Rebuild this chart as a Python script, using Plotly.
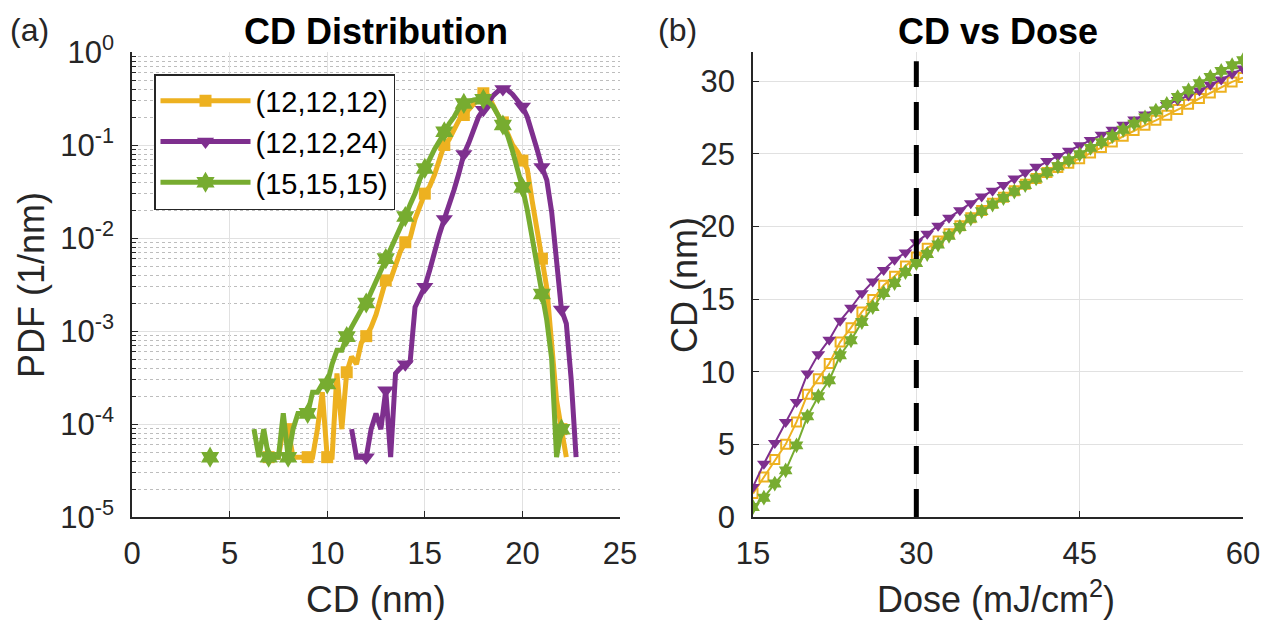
import plotly.graph_objects as go
import numpy as np

# ---------------- data ----------------
# (a) CD distribution: bin centres (nm) and PDF values (1/nm); None = empty bin
CD_BINS = [round(v, 2) for v in np.arange(4.0, 23.01, 0.25)]

PDF_12_12_12 = [
    None, None, None, None, None, None, None, None,          # 4.00-5.75
    None, None, None, None,                                  # 6.00-6.75
    4.4e-5, 4.4e-5, 4.4e-5, 8.8e-5,                          # 7.00-7.75
    8.8e-5, 4.4e-5, 4.4e-5, 4.4e-5,                          # 8.00-8.75
    4.4e-5, 4.4e-5, 8.8e-5, 2.2e-4,                          # 9.00-9.75
    4.4e-5, 4.4e-5, 3.5e-4, 8.8e-5,                          # 10.00-10.75
    3.6e-4, 5.3e-4, 4.4e-4, 7.5e-4,                          # 11.00-11.75
    8.8e-4, 1.1e-3, 1.5e-3, 2.3e-3,                          # 12.00-12.75
    3.5e-3, 3.6e-3, 5.0e-3, 7.2e-3,                          # 13.00-13.75
    9.0e-3, 1.0e-2, 1.6e-2, 2.2e-2,                          # 14.00-14.75
    3.0e-2, 3.6e-2, 4.8e-2, 7.0e-2,                          # 15.00-15.75
    1.0e-1, 1.15e-1, 1.5e-1, 1.85e-1,                        # 16.00-16.75
    2.1e-1, 2.4e-1, 2.8e-1, 3.2e-1,                          # 17.00-17.75
    3.6e-1, 3.4e-1, 2.6e-1, 2.1e-1,                          # 18.00-18.75
    1.75e-1, 1.3e-1, 1.0e-1, 8.5e-2,                         # 19.00-19.75
    6.8e-2, 5.5e-2, 2.5e-2, 1.3e-2,                          # 20.00-20.75
    6.0e-3, 2.9e-3, 6.0e-4, 1.8e-4,                          # 21.00-21.75
    8.8e-5, 4.4e-5, None, None,                              # 22.00-22.75
    None,                                                    # 23.00
]

PDF_12_12_24 = [
    None, None, None, None, None, None, None, None,          # 4.00-5.75
    None, None, None, None,                                  # 6.00-6.75
    None, None, None, None,                                  # 7.00-7.75
    None, None, None, None,                                  # 8.00-8.75
    None, None, None, None,                                  # 9.00-9.75
    None, None, None, None,                                  # 10.00-10.75
    None, 8.8e-5, 4.4e-5, 4.4e-5,                            # 11.00-11.75
    4.4e-5, 8.8e-5, 1.3e-4, 8.8e-5,                          # 12.00-12.75
    2.3e-4, 4.4e-5, 3.5e-4, 4.0e-4,                          # 13.00-13.75
    4.4e-4, 4.7e-4, 1.8e-3, 2.4e-3,                          # 14.00-14.75
    3.0e-3, 4.5e-3, 7.5e-3, 1.1e-2,                          # 15.00-15.75
    1.6e-2, 2.2e-2, 3.3e-2, 5.0e-2,                          # 16.00-16.75
    8.0e-2, 1.05e-1, 1.5e-1, 2.0e-1,                         # 17.00-17.75
    2.4e-1, 2.9e-1, 3.4e-1, 3.8e-1,                          # 18.00-18.75
    4.0e-1, 3.9e-1, 3.5e-1, 3.0e-1,                          # 19.00-19.75
    2.6e-1, 2.0e-1, 1.4e-1, 9.0e-2,                          # 20.00-20.75
    5.8e-2, 4.2e-2, 1.9e-2, 6.5e-3,                          # 21.00-21.75
    1.7e-3, 1.2e-3, 3.0e-4, 4.4e-5,                          # 22.00-22.75
    None,                                                    # 23.00
]

PDF_15_15_15 = [
    4.4e-5, None, None, None, None, None, None, 4.4e-5,      # 4.00-5.75
    None, 8.8e-5, 4.4e-5, 8.8e-5,                            # 6.00-6.75
    4.4e-5, 4.4e-5, 4.4e-5, 1.3e-4,                          # 7.00-7.75
    4.4e-5, 8.8e-5, 1.3e-4, 1.3e-4,                          # 8.00-8.75
    1.3e-4, 2.2e-4, 2.2e-4, 2.7e-4,                          # 9.00-9.75
    2.7e-4, 4.4e-4, 6.2e-4, 6.2e-4,                          # 10.00-10.75
    8.7e-4, 1.1e-3, 1.4e-3, 1.7e-3,                          # 11.00-11.75
    2.0e-3, 2.6e-3, 3.4e-3, 4.6e-3,                          # 12.00-12.75
    6.0e-3, 7.5e-3, 1.0e-2, 1.3e-2,                          # 13.00-13.75
    1.7e-2, 2.3e-2, 3.0e-2, 4.3e-2,                          # 14.00-14.75
    5.6e-2, 7.0e-2, 9.0e-2, 1.1e-1,                          # 15.00-15.75
    1.39e-1, 1.7e-1, 2.0e-1, 2.5e-1,                         # 16.00-16.75
    2.8e-1, 2.95e-1, 3.05e-1, 3.1e-1,                        # 17.00-17.75
    3.1e-1, 2.95e-1, 2.6e-1, 2.1e-1,                         # 18.00-18.75
    1.64e-1, 1.25e-1, 8.5e-2, 5.5e-2,                        # 19.00-19.75
    3.5e-2, 2.0e-2, 1.05e-2, 5.5e-3,                         # 20.00-20.75
    2.5e-3, 1.3e-3, 5.0e-4, 4.4e-5,                          # 21.00-21.75
    8.8e-5, None, None, None,                                # 22.00-22.75
    None,                                                    # 23.00
]

# (b) CD vs dose
DOSE = list(range(15, 61))
CD_12_12_12 = [1.61, 2.75, 3.95, 5.0, 6.54, 8.44, 9.52, 10.56, 12.04, 13.03,
               14.11, 14.96, 15.95, 16.57, 17.27, 17.9, 18.5, 19.0, 19.5, 20.05,
               20.6, 21.1, 21.6, 22.0, 22.45, 22.9, 23.3, 23.7, 24.05, 24.35,
               24.66, 25.05, 25.42, 25.8, 26.2, 26.6, 26.96, 27.3, 27.65, 28.05,
               28.4, 28.8, 29.18, 29.58, 29.94, 30.24]
CD_12_12_24 = [2.07, 3.67, 5.09, 6.54, 7.92, 9.87, 11.2, 12.2, 13.5, 14.4,
               15.4, 16.2, 17.0, 17.7, 18.2, 18.9, 19.5, 20.05, 20.6, 21.11,
               21.6, 22.05, 22.45, 22.85, 23.3, 23.7, 24.1, 24.5, 24.85, 25.2,
               25.58, 25.95, 26.3, 26.65, 27.0, 27.35, 27.7, 28.0, 28.35, 28.7,
               29.0, 29.35, 29.75, 30.1, 30.5, 30.86]
CD_15_15_15 = [0.69, 1.33, 2.30, 3.21, 4.93, 6.93, 8.31, 9.41, 11.13, 12.16,
               13.42, 14.45, 15.42, 16.1, 16.86, 17.48, 18.1, 18.75, 19.35, 19.96,
               20.54, 21.05, 21.5, 21.95, 22.4, 22.85, 23.3, 23.72, 24.14, 24.55,
               24.96, 25.4, 25.8, 26.22, 26.65, 27.07, 27.5, 27.97, 28.43, 28.9,
               29.37, 29.85, 30.28, 30.7, 31.09, 31.43]
REF_DOSE = 30

SERIES = ["(12,12,12)", "(12,12,24)", "(15,15,15)"]
LEFT_TICKS = [0, 5, 10, 15, 20, 25]
LOG_TICKS = [1e-5, 1e-4, 1e-3, 1e-2, 1e-1, 1e0]
LOG_TICKTEXT = ["10<sup>-5</sup>", "10<sup>-4</sup>", "10<sup>-3</sup>",
                "10<sup>-2</sup>", "10<sup>-1</sup>", "10<sup>0</sup>"]
DOSE_TICKS = [15, 30, 45, 60]
CD_TICKS = [0, 5, 10, 15, 20, 25, 30]

# ---------------- style ----------------
COLORS = ["#EDB120", "#7E2F8E", "#77AC30"]
SYMS_L = ["square", "triangle-down", "hexagram"]
SIZES_L = [12, 15, 16]
SYMS_R = ["square-open", "triangle-down", "hexagram"]
SIZES_R = [9, 12, 12]
FONT = "Liberation Sans, Arial, sans-serif"
AX = "#262626"
W, H = 1265, 631

fig = go.Figure()
pdfs = [PDF_12_12_12, PDF_12_12_24, PDF_15_15_15]
cds = [CD_12_12_12, CD_12_12_24, CD_15_15_15]

for name, pdf, col, sym, sz in zip(SERIES, pdfs, COLORS, SYMS_L, SIZES_L):
    fig.add_trace(go.Scatter(x=CD_BINS, y=pdf, mode="lines", connectgaps=False,
                             line=dict(color=col, width=5), showlegend=False,
                             xaxis="x", yaxis="y", hoverinfo="skip"))
    fig.add_trace(go.Scatter(x=CD_BINS[::4], y=pdf[::4], mode="markers",
                             marker=dict(symbol=sym, size=sz, color=col, line=dict(width=0)),
                             showlegend=False, xaxis="x", yaxis="y"))
    fig.add_trace(go.Scatter(x=[None], y=[None], mode="lines+markers", name=name,
                             line=dict(color=col, width=5),
                             marker=dict(symbol=sym, size=sz, color=col, line=dict(width=0)),
                             xaxis="x", yaxis="y"))

for name, cd, col, sym, sz in zip(SERIES, cds, COLORS, SYMS_R, SIZES_R):
    mk = dict(symbol=sym, size=sz, color=col, line=dict(width=2 if "open" in sym else 0, color=col))
    fig.add_trace(go.Scatter(x=DOSE, y=cd, mode="lines+markers",
                             line=dict(color=col, width=2), marker=mk,
                             showlegend=False, xaxis="x2", yaxis="y2"))

fig.add_shape(type="line", xref="x2", yref="y2 domain", x0=REF_DOSE, x1=REF_DOSE,
              y0=0, y1=0.98, line=dict(color="black", width=5, dash="28px,15px"))

xl = [132 / W, 620 / W]
xr = [753 / W, 1243 / W]
yd = [1 - 517 / H, 1 - 52 / H]
tickfont = dict(family=FONT, size=31, color=AX)
common = dict(showline=True, linecolor=AX, linewidth=1.5, mirror=False, ticks="inside",
              ticklen=6, tickwidth=1.3, tickcolor=AX, zeroline=False, tickfont=tickfont,
              showgrid=True, gridcolor="#e1e1e1", gridwidth=1, automargin=False)

fig.update_layout(
    template="none",
    width=W, height=H, margin=dict(l=0, r=0, t=0, b=0, pad=0, autoexpand=False),
    paper_bgcolor="white", plot_bgcolor="white",
    font=dict(family=FONT, color=AX),
    xaxis=dict(domain=xl, range=[0, 25], tickvals=LEFT_TICKS, anchor="y",
               ticklabelstandoff=8, **common),
    yaxis=dict(domain=yd, type="log", range=[-5, 0], tickvals=LOG_TICKS,
               ticktext=LOG_TICKTEXT, anchor="x", ticklabelstandoff=10,
               minor=dict(dtick="D1", ticks="inside", ticklen=4, tickcolor=AX,
                          showgrid=True, griddash="dot", gridcolor="#bdbdbd", gridwidth=1),
               **common),
    xaxis2=dict(domain=xr, range=[15, 60], tickvals=DOSE_TICKS, anchor="y2",
                ticklabelstandoff=8, **common),
    yaxis2=dict(domain=yd, range=[0, 32], tickvals=CD_TICKS, anchor="x2",
                ticklabelstandoff=10, **common),
    legend=dict(x=154 / W, y=1 - 74 / H, xanchor="left", yanchor="top",
                bgcolor="white", bordercolor=AX, borderwidth=1.5,
                font=dict(family=FONT, size=29, color="black"),
                itemwidth=90, tracegroupgap=0),
)

def ann(text, px, py, size, bold=False, angle=0, xanchor="center"):
    fig.add_annotation(text=f"<b>{text}</b>" if bold else text, x=px / W, y=1 - py / H,
                       xref="paper", yref="paper", showarrow=False, textangle=angle,
                       xanchor=xanchor, yanchor="middle",
                       font=dict(family=FONT, size=size, color="black" if bold else AX))

ann("(a)", 30, 30, 32)
ann("(b)", 677, 30, 32)
ann("CD Distribution", 376, 31, 36, bold=True)
ann("CD vs Dose", 998, 31, 36, bold=True)
ann("PDF (1/nm)", 31, 285, 36, angle=-90)
ann("CD (nm)", 684, 285, 36, angle=-90)
ann("CD (nm)", 376, 599, 37)
ann("Dose (mJ/cm<sup>2</sup>)", 996, 597, 36)

fig.write_html("out.html")
